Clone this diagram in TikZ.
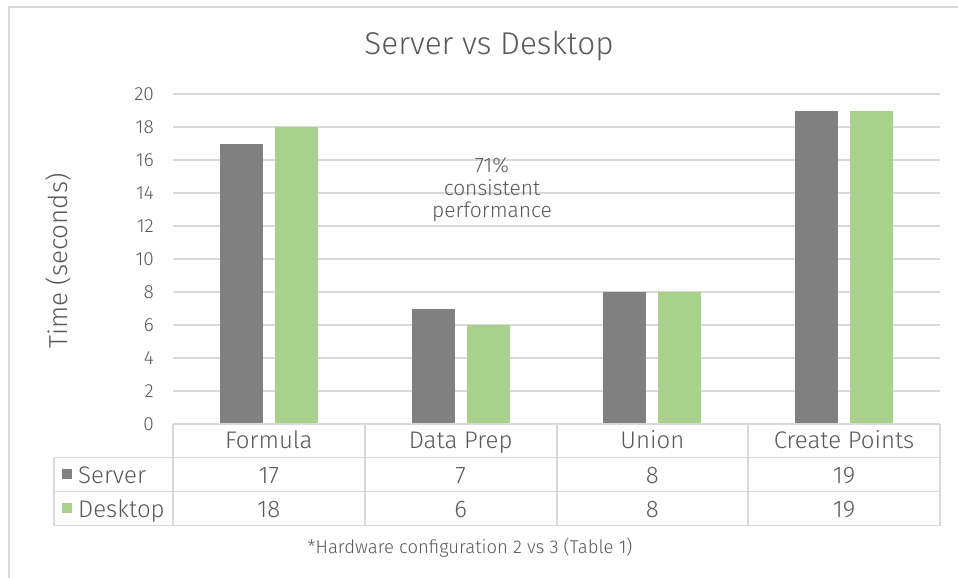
\documentclass[tikz,border=0pt]{standalone}
\usepackage{fontspec}
\setmainfont{Fira Sans Light}
\definecolor{srvcol}{HTML}{808080}
\definecolor{dskcol}{HTML}{A9D18E}
\definecolor{gridcol}{HTML}{D9D9D9}
\definecolor{txtcol}{HTML}{595959}
\begin{document}
\begin{tikzpicture}[x=1pt,y=-1pt,
  gridline/.style={draw=gridcol,line width=1.4pt},
  tabline/.style={draw=gridcol,line width=1.6pt},
  lbl/.style={text=txtcol,inner sep=0pt},
  ticklab/.style={lbl,font=\fontsize{19}{22}\selectfont,anchor=east},
  cell/.style={lbl,font=\fontsize{24}{27}\selectfont,anchor=base}]
\useasboundingbox (0,0) rectangle (958,578);
\fill[white] (0,0) rectangle (958,578);
\begin{scope}
\clip (0,0) rectangle (958,578);
% chart frame
\draw[draw=gridcol,line width=1.4pt] (9,600) -- (9,7) -- (980,7);
\end{scope}

% title
\node[lbl,font=\fontsize{31.5}{34}\selectfont,anchor=base] (title) at (489,55) {Server vs Desktop};

% value gridlines and tick labels
\foreach \v in {2,4,...,20}
  \draw[gridline] (173,{424-16.5*\v}) -- (940,{424-16.5*\v});
\foreach \v in {0,2,...,20}
  \node[ticklab] (tick\v) at (154,{424-16.5*\v}) {\v};

% axis title
\node[lbl,font=\fontsize{26}{29}\selectfont,rotate=90] (ytitle) at (58,261) {Time (seconds)};

% bars and table entries
\foreach \i/\s/\d/\c in {0/17/18/Formula,1/7/6/Data Prep,2/8/8/Union,3/19/19/Create Points}{
  \pgfmathsetmacro{\cx}{173+191.75*(\i+0.5)}
  \fill[srvcol] ({\cx-49},424) rectangle ({\cx-6},{424-16.5*\s});
  \fill[dskcol] ({\cx+6},424) rectangle ({\cx+49},{424-16.5*\d});
  \node[cell] (cat\i) at (\cx,448) {\c};
  \node[cell] (srv\i) at (\cx,483) {\s};
  \node[cell] (dsk\i) at (\cx,517) {\d};
}

% data table grid
\foreach \x in {173,365,557,748,940}
  \draw[tabline] (\x,424) -- (\x,525.5);
\draw[tabline] (54,457.5) -- (54,525.5);
\draw[tabline] (173,424) -- (940,424);
\foreach \y in {457.5,491.5,525.5}
  \draw[tabline] (54,\y) -- (940,\y);

% legend keys
\fill[srvcol] (62,469) rectangle (72,479);
\fill[dskcol] (62,503) rectangle (72,513);
\node[cell,anchor=base west] (legsrv) at (78,483) {Server};
\node[cell,anchor=base west] (legdsk) at (78,517) {Desktop};

% annotation
\node[lbl,font=\fontsize{21}{22.5}\selectfont,align=center] (note) at (492,190) {71\%\\consistent\\performance};

% footnote
\node[lbl,font=\fontsize{18.5}{21}\selectfont,anchor=base] (foot) at (470,553) {*Hardware configuration 2 vs 3 (Table 1)};
\end{tikzpicture}
\end{document}
